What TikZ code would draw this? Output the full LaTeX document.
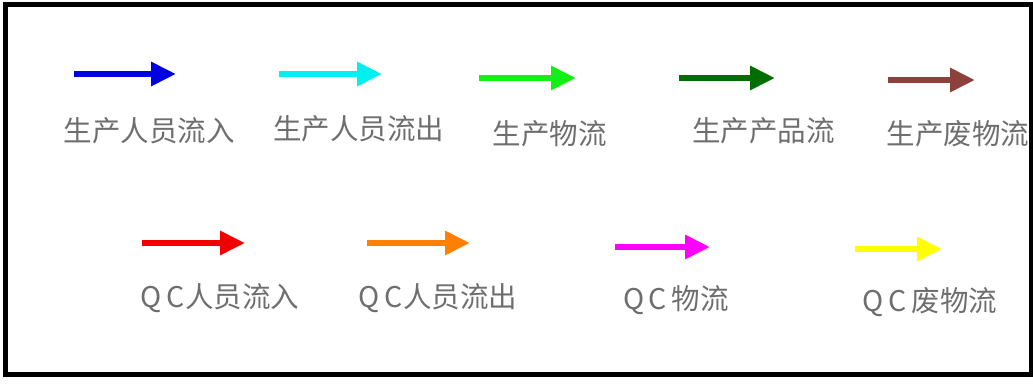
\documentclass[tikz,border=0pt]{standalone}
\usepackage{fontspec}
\newfontfamily\cjk{Noto Sans CJK SC}
\usetikzlibrary{arrows.meta}
\definecolor{cBlue}{RGB}{0,0,225}
\definecolor{cCyan}{RGB}{0,240,240}
\definecolor{cGreen}{RGB}{20,240,20}
\definecolor{cDGreen}{RGB}{0,110,0}
\definecolor{cBrown}{RGB}{140,65,60}
\definecolor{cRed}{RGB}{240,0,0}
\definecolor{cOrange}{RGB}{255,128,0}
\definecolor{cMagenta}{RGB}{255,0,255}
\definecolor{cYellow}{RGB}{255,255,0}
\definecolor{cText}{RGB}{110,110,110}
\tikzset{
  flow/.style={line width=6pt, -{Triangle[length=25pt,width=23pt]}},
  lbl/.style={inner sep=0pt, text=cText, font=\cjk\fontsize{28.5}{30}\selectfont},
  frame/.style={draw=black, line width=5pt}
}
\begin{document}
\begin{tikzpicture}[x=1pt,y=-1pt]
\useasboundingbox (0,0) rectangle (1033,383);
\draw[frame] (5.5,4) rectangle (1031,374.5);
% row 1
\coordinate (a1s) at (74,74);  \coordinate (a1e) at (176,74);
\coordinate (a2s) at (279,74); \coordinate (a2e) at (382,74);
\coordinate (a3s) at (479,78); \coordinate (a3e) at (576,78);
\coordinate (a4s) at (679,78); \coordinate (a4e) at (775,78);
\coordinate (a5s) at (888,80); \coordinate (a5e) at (975,80);
% row 2
\coordinate (a6s) at (142,243); \coordinate (a6e) at (245,243);
\coordinate (a7s) at (367,243); \coordinate (a7e) at (470,243);
\coordinate (a8s) at (615,247); \coordinate (a8e) at (710,247);
\coordinate (a9s) at (855,249); \coordinate (a9e) at (942,249);
\draw[flow, cBlue] (a1s) -- (a1e);
\draw[flow, cCyan] (a2s) -- (a2e);
\draw[flow, cGreen] (a3s) -- (a3e);
\draw[flow, cDGreen] (a4s) -- (a4e);
\draw[flow, cBrown] (a5s) -- (a5e);
\draw[flow, cRed] (a6s) -- (a6e);
\draw[flow, cOrange] (a7s) -- (a7e);
\draw[flow, cMagenta] (a8s) -- (a8e);
\draw[flow, cYellow] (a9s) -- (a9e);
\node[lbl] (l1) at (149,131) {生产人员流入};
\node[lbl] (l2) at (358.5,129) {生产人员流出};
\node[lbl] (l3) at (549.5,134) {生产物流};
\node[lbl] (l4) at (763.5,131) {生产产品流};
\node[lbl] (l5) at (958,134) {生产废物流};
\node[lbl] (l6) at (220,298) {Q\,C人员流入};
\node[lbl] (l7) at (438,298) {Q\,C人员流出};
\node[lbl] (l8) at (676,300) {Q\,C\,物流};
\node[lbl] (l9) at (930,302) {Q\,C\,废物流};
\end{tikzpicture}
\end{document}
